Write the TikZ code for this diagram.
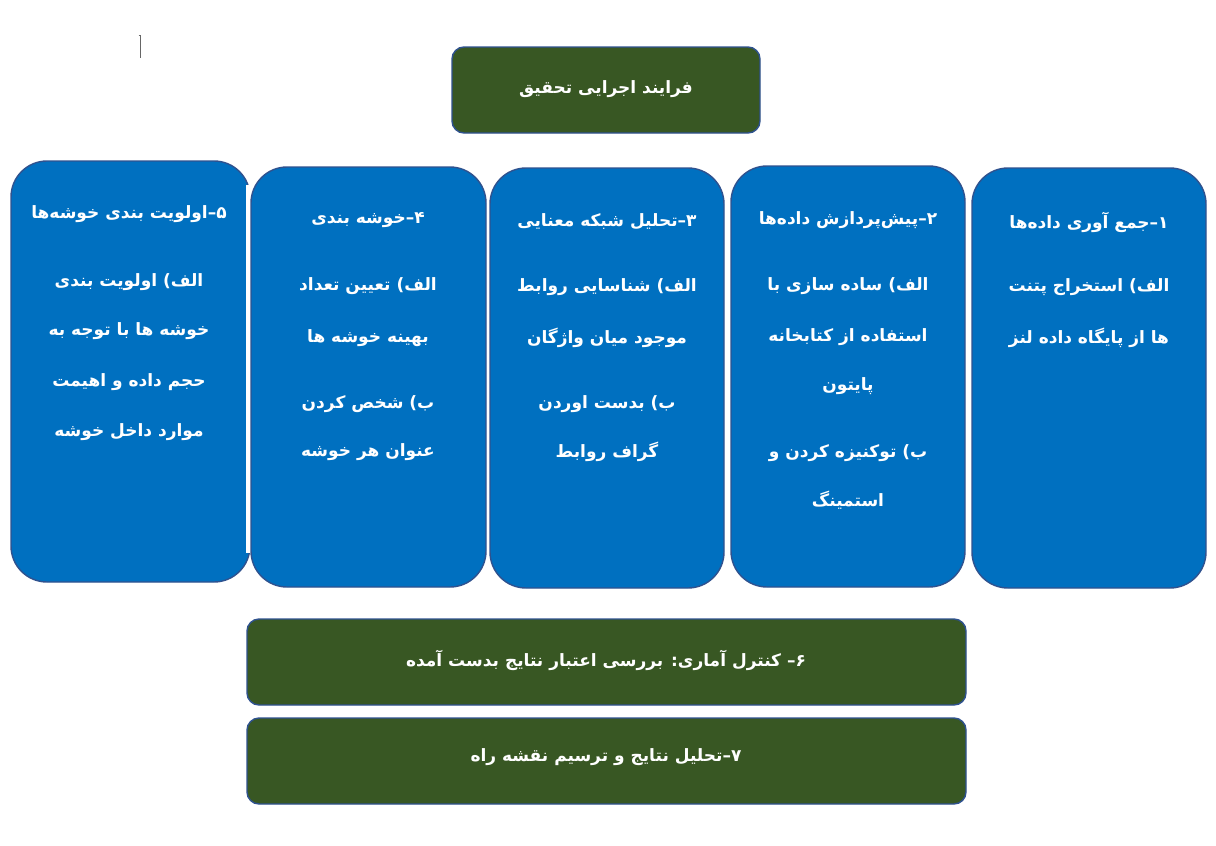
\documentclass[tikz,border=0pt]{standalone}
\usepackage{fontspec}
\newfontfamily\fa[Script=Arabic]{DejaVu Sans}
\TeXXeTstate=1
\definecolor{boxblue}{HTML}{0070C0}
\definecolor{boxgreen}{HTML}{385723}
\definecolor{edgeblue}{HTML}{2F528F}
\begin{document}
\begin{tikzpicture}[x=1pt,y=-1pt,
  bluebox/.style={draw=edgeblue, line width=1.4pt, fill=boxblue, rounded corners=36pt, inner sep=0pt},
  greenbox/.style={draw=edgeblue, line width=1.4pt, fill=boxgreen, rounded corners=12pt, inner sep=0pt},
  txt/.style={text=white, font=\fa\bfseries\fontsize{17}{20}\selectfont, inner sep=0pt},
  bigtxt/.style={txt, font=\fa\bfseries\fontsize{17}{20}\selectfont}]
\useasboundingbox (0,0) rectangle (1216,846);
\fill[white] (0,0) rectangle (1216,846);
% cursor mark
\draw[gray!80!black, line width=0.9pt] (138.5,35) -- (140,35) -- (140,58);
% title
\node[greenbox, minimum width=308pt, minimum height=86pt] (title) at (606,90) {};
\node[bigtxt] (titletxt) at (606,89) {\beginR فرایند اجرایی تحقیق\endR};
% column boxes
\node[bluebox, minimum width=239pt, minimum height=421pt] (b5) at (130.5,371.5) {};
\fill[white] (245.5,185) rectangle (250.5,553);
\node[bluebox, minimum width=235pt, minimum height=420pt] (b4) at (368.5,377) {};
\node[bluebox, minimum width=234pt, minimum height=420pt] (b3) at (607,378) {};
\node[bluebox, minimum width=234pt, minimum height=421pt] (b2) at (848,376.5) {};
\node[bluebox, minimum width=234pt, minimum height=420pt] (b1) at (1089,378) {};
% bottom boxes
\node[greenbox, minimum width=719pt, minimum height=86pt] (b6) at (606.5,662) {};
\node[greenbox, minimum width=719pt, minimum height=86pt] (b7) at (606.5,761) {};
% box 1
\node[txt] (b1a) at (1089,222) {\beginR ۱–جمع آوری داده‌ها\endR};
\node[txt] (b1b) at (1089,287) {\beginR الف) استخراج پتنت\endR};
\node[txt] (b1c) at (1089,338) {\beginR ها از پایگاه داده لنز\endR};
% box 2
\node[txt] (b2a) at (848,220) {\beginR ۲–پیش‌پردازش داده‌ها\endR};
\node[txt] (b2b) at (848,286) {\beginR الف) ساده سازی با\endR};
\node[txt] (b2c) at (848,337) {\beginR استفاده از کتابخانه\endR};
\node[txt] (b2d) at (848,386) {\beginR پایتون\endR};
\node[txt] (b2e) at (848,453) {\beginR ب) توکنیزه کردن و\endR};
\node[txt] (b2f) at (848,500) {\beginR استمینگ\endR};
% box 3
\node[txt] (b3a) at (607,222) {\beginR ۳–تحلیل شبکه معنایی\endR};
\node[txt] (b3b) at (607,287) {\beginR الف) شناسایی روابط\endR};
\node[txt] (b3c) at (607,338) {\beginR موجود میان واژگان\endR};
\node[txt] (b3d) at (607,404) {\beginR ب) بدست اوردن\endR};
\node[txt] (b3e) at (607,452) {\beginR گراف روابط\endR};
% box 4
\node[txt] (b4a) at (368,220) {\beginR ۴–خوشه بندی\endR};
\node[txt] (b4b) at (368,286) {\beginR الف) تعیین تعداد\endR};
\node[txt] (b4c) at (368,338) {\beginR بهینه خوشه ها\endR};
\node[txt] (b4d) at (368,404) {\beginR ب) شخص کردن\endR};
\node[txt] (b4e) at (368,452) {\beginR عنوان هر خوشه\endR};
% box 5
\node[txt] (b5a) at (129,214) {\beginR ۵–اولویت بندی خوشه‌ها\endR};
\node[txt] (b5b) at (129,282) {\beginR الف) اولویت بندی\endR};
\node[txt] (b5c) at (129,331) {\beginR خوشه ها با توجه به\endR};
\node[txt] (b5d) at (129,382) {\beginR حجم داده و اهیمت\endR};
\node[txt] (b5e) at (129,432) {\beginR موارد داخل خوشه\endR};
% bottom texts
\node[bigtxt] (b6txt) at (606,660) {\beginR ۶– کنترل آماری: بررسی اعتبار نتایج بدست آمده\endR};
\node[bigtxt] (b7txt) at (606,757) {\beginR ۷–تحلیل نتایج و ترسیم نقشه راه\endR};
\end{tikzpicture}
\end{document}
